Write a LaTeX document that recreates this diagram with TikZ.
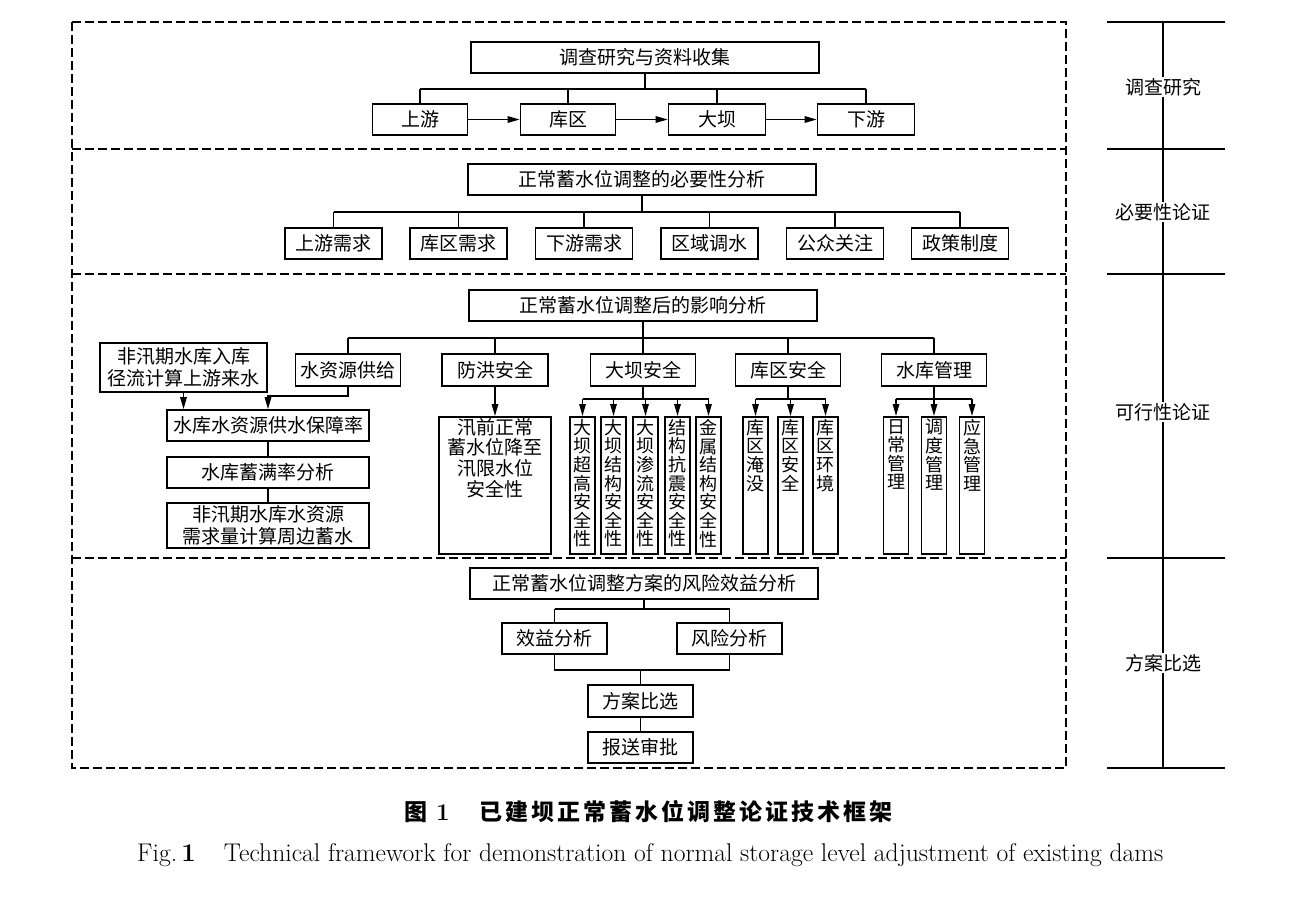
\documentclass[tikz,border=0pt]{standalone}
\usepackage{fontspec}
\usepackage{graphicx}
\newfontfamily\cjk{Noto Sans CJK SC}
\usetikzlibrary{arrows.meta}
\tikzset{
  box/.style={draw, line width=1.6pt, inner sep=0pt, minimum height=31pt, align=center,
              font=\cjk\fontsize{19}{21.5}\selectfont},
  tbox/.style={box, minimum width=348pt},
  vbox/.style={draw, line width=1.6pt, inner sep=0pt, minimum width=25pt, minimum height=137pt, anchor=north},
  vlab/.style={anchor=north, inner sep=0pt, yshift=-3pt, align=center,
               font=\cjk\fontsize{18}{18.6}\selectfont},
  elab/.style={anchor=north, inner sep=0pt, yshift=-2pt, align=center,
               font=\cjk\fontsize{19}{20.7}\selectfont},
  link/.style={line width=1.5pt},
  arr/.style={line width=1.5pt, -{Triangle[length=12pt,width=6.5pt]}},
  frame/.style={line width=1.3pt, dash pattern=on 9pt off 4pt},
  side/.style={font=\cjk\fontsize{19}{21.5}\selectfont, fill=white, inner sep=1pt}
}
\begin{document}
\begin{tikzpicture}[x=1pt,y=-1pt]
\useasboundingbox (0,0) rectangle (1300,911);
\fill[white] (0,0) rectangle (1300,911);

% dashed frame
\draw[frame] (72,22) rectangle (1066,768);
\foreach \yy in {149,274,558} \draw[frame] (72,\yy) -- (1066,\yy);

% right stage column
\draw[link] (1163,22) -- (1163,768);
\foreach \yy in {22,149,274,558,768} \draw[link] (1107,\yy) -- (1225,\yy);
\node[side] (s1) at (1163,87) {调查研究};
\node[side] (s2) at (1163,212) {必要性论证};
\node[side] (s3) at (1163,412) {可行性论证};
\node[side] (s4) at (1163,663) {方案比选};

% ---- section 1
\node[tbox] (t1) at (645,57.5) {调查研究与资料收集};
\node[box, minimum width=95pt] (a1) at (420,119.5) {上游};
\node[box, minimum width=95pt] (a2) at (568,119.5) {库区};
\node[box, minimum width=97pt] (a3) at (717,119.5) {大坝};
\node[box, minimum width=97pt] (a4) at (866,119.5) {下游};
\draw[link] (t1.south) -- ++(0,15) coordinate (t1b);
\draw[link] (t1b -| a1.north) -- (t1b -| a4.north);
\foreach \n in {a1,a2,a3,a4} \draw[link] (t1b -| \n.north) -- (\n.north);
\draw[arr] (a1.east) -- (a2.west);
\draw[arr] (a2.east) -- (a3.west);
\draw[arr] (a3.east) -- (a4.west);

% ---- section 2
\node[tbox] (t2) at (642,179.5) {正常蓄水位调整的必要性分析};
\node[box, minimum width=97pt] (b1) at (333.5,243.5) {上游需求};
\node[box, minimum width=97pt] (b2) at (458.5,243.5) {库区需求};
\node[box, minimum width=97pt] (b3) at (584,243.5) {下游需求};
\node[box, minimum width=97pt] (b4) at (709.5,243.5) {区域调水};
\node[box, minimum width=97pt] (b5) at (835,243.5) {公众关注};
\node[box, minimum width=97pt] (b6) at (960,243.5) {政策制度};
\draw[link] (t2.south) -- ++(0,16) coordinate (t2b);
\draw[link] (t2b -| b1.north) -- (t2b -| b6.north);
\foreach \n in {b1,b2,b3,b4,b5,b6} \draw[link] (t2b -| \n.north) -- (\n.north);

% ---- section 3
\node[tbox] (t3) at (643,305.5) {正常蓄水位调整后的影响分析};
\node[box, minimum width=105pt, minimum height=32pt] (c1) at (348,370) {水资源供给};
\node[box, minimum width=106pt, minimum height=32pt] (c2) at (495,370) {防洪安全};
\node[box, minimum width=105pt, minimum height=32pt] (c3) at (643,370) {大坝安全};
\node[box, minimum width=105pt, minimum height=32pt] (c4) at (788,370) {库区安全};
\node[box, minimum width=105pt, minimum height=32pt] (c5) at (934,370) {水库管理};
\draw[link] (t3.south) -- ++(0,16) coordinate (t3b);
\draw[link] (t3b -| c1.north) -- (t3b -| c5.north);
\foreach \n in {c1,c2,c3,c4,c5} \draw[link] (t3b -| \n.north) -- (\n.north);

% water supply chain
\node[box, minimum width=167pt, minimum height=49pt] (d0) at (183.5,367.5) {非汛期水库入库\\径流计算上游来水};
\node[box, minimum width=202pt] (d1) at (268,425.5) {水库水资源供水保障率};
\node[box, minimum width=202pt] (d2) at (268,472.5) {水库蓄满率分析};
\node[box, minimum width=202pt, minimum height=45pt] (d3) at (268,525.5) {非汛期水库水资源\\需求量计算周边蓄水};
\draw[arr] (d0.south) -- (d0.south |- d1.north);
\draw[arr] (c1.south) -- ++(0,9) -| (d1.north);
\draw[link] (d1) -- (d2);
\draw[link] (d2) -- (d3);

% flood safety
\node[draw, line width=1.6pt, inner sep=0pt, minimum width=112pt, minimum height=137pt, anchor=north,
      label={[elab]north:{汛前正常\\蓄水位降至\\汛限水位\\安全性}}] (e) at (495,416) {};
\draw[arr] (c2.south) -- (e.north);

% dam safety
\node[vbox, label={[vlab]north:{大\\坝\\超\\高\\安\\全\\性}}] (f1) at (582.5,416) {};
\node[vbox, label={[vlab]north:{大\\坝\\结\\构\\安\\全\\性}}] (f2) at (613.5,416) {};
\node[vbox, label={[vlab]north:{大\\坝\\渗\\流\\安\\全\\性}}] (f3) at (645.5,416) {};
\node[vbox, label={[vlab]north:{结\\构\\抗\\震\\安\\全\\性}}] (f4) at (677.5,416) {};
\node[vbox, label={[vlab]north:{金\\属\\结\\构\\安\\全\\性}}] (f5) at (708.5,416) {};
\draw[link] (c3.south) -- ++(0,12) coordinate (c3b);
\draw[link] (c3b -| f1.north) -- (c3b -| f5.north);
\foreach \n in {f1,f2,f3,f4,f5} \draw[arr] (c3b -| \n.north) -- (\n.north);

% reservoir area safety
\node[vbox, label={[vlab]north:{库\\区\\淹\\没}}] (g1) at (755.5,416) {};
\node[vbox, label={[vlab]north:{库\\区\\安\\全}}] (g2) at (790.5,416) {};
\node[vbox, label={[vlab]north:{库\\区\\环\\境}}] (g3) at (825.5,416) {};
\draw[link] (c4.south) -- ++(0,12) coordinate (c4b);
\draw[link] (c4b -| g1.north) -- (c4b -| g3.north);
\foreach \n in {g1,g2,g3} \draw[arr] (c4b -| \n.north) -- (\n.north);

% reservoir management
\node[vbox, label={[vlab]north:{日\\常\\管\\理}}] (h1) at (896,416) {};
\node[vbox, label={[vlab]north:{调\\度\\管\\理}}] (h2) at (934,416) {};
\node[vbox, label={[vlab]north:{应\\急\\管\\理}}] (h3) at (972,416) {};
\draw[link] (c5.south) -- ++(0,12) coordinate (c5b);
\draw[link] (c5b -| h1.north) -- (c5b -| h3.north);
\foreach \n in {h1,h2,h3} \draw[arr] (c5b -| \n.north) -- (\n.north);

% ---- section 4
\node[tbox] (t4) at (644,583.5) {正常蓄水位调整方案的风险效益分析};
\node[box, minimum width=105pt] (k1) at (554.5,638.5) {效益分析};
\node[box, minimum width=105pt] (k2) at (729.5,638.5) {风险分析};
\draw[link] (t4.south) -- ++(0,9) coordinate (t4b);
\draw[link] (t4b -| k1.north) -- (t4b -| k2.north);
\draw[link] (t4b -| k1.north) -- (k1.north);
\draw[link] (t4b -| k2.north) -- (k2.north);
\node[box, minimum width=105pt, minimum height=32pt] (m1) at (640.5,701) {方案比选};
\node[box, minimum width=105pt] (m2) at (640.5,747.5) {报送审批};
\draw[link] (k1.south) -- ++(0,15) coordinate (kb) -| (k2.south);
\draw[link] (kb -| m1.north) -- (m1.north);
\draw[link] (m1) -- (m2);

% ---- captions
\node[anchor=west, inner sep=0pt] (cap1) at (404,812)
  {{\cjk\bfseries\fontsize{23}{26}\selectfont 图}\hspace{9pt}{\bfseries\fontsize{24}{26}\selectfont 1}\hspace{30pt}{\cjk\bfseries\fontsize{23}{26}\selectfont\addfontfeature{LetterSpace=13}已建坝正常蓄水位调整论证技术框架}};
\node[anchor=west, inner sep=0pt] (cap2) at (137,855)
  {\resizebox{1026pt}{!}{\fontsize{22}{26}\selectfont Fig.\,\textbf{1}\hspace{1.1em}Technical framework for demonstration of normal storage level adjustment of existing dams}};
\end{tikzpicture}
\end{document}
